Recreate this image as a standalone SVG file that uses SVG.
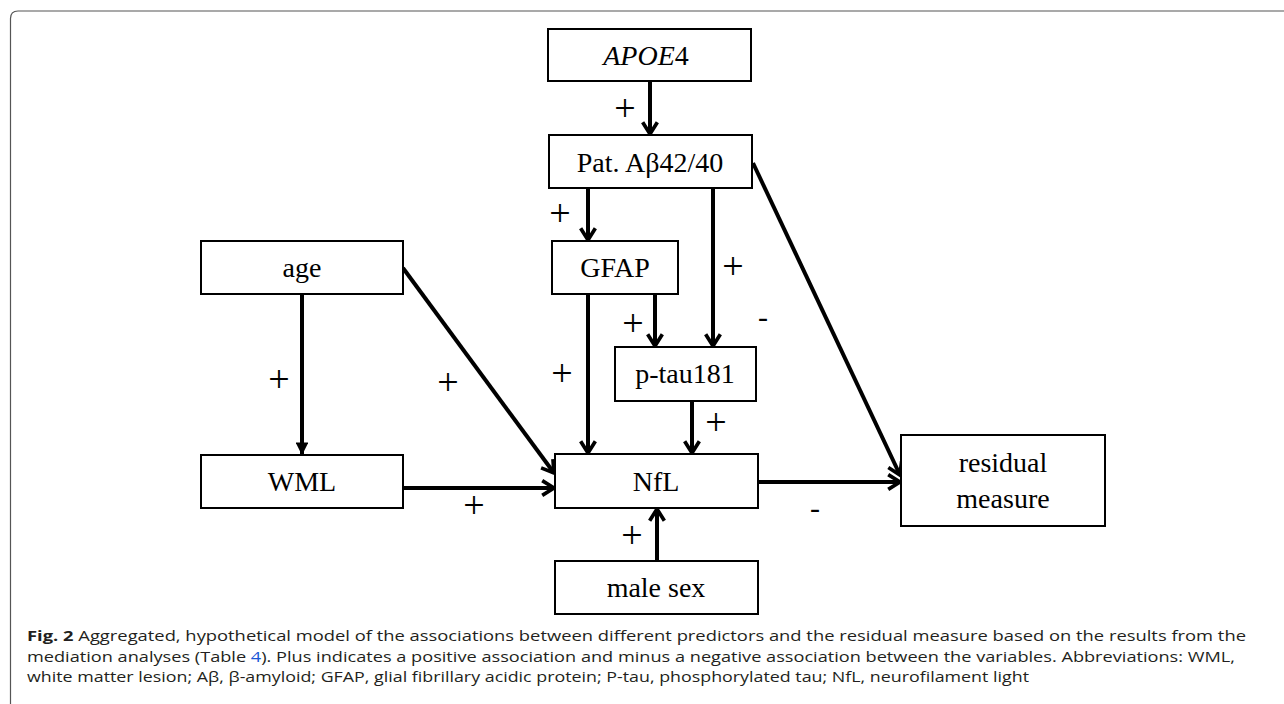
<svg xmlns="http://www.w3.org/2000/svg" width="1284" height="704" viewBox="0 0 1284 704">
<style>
.box{fill:#fff;stroke:#000;stroke-width:2}
.lbl{font-family:"Liberation Serif",serif;font-size:28px;fill:#000;text-anchor:middle}
.sign{font-family:"Liberation Serif",serif;font-size:38px;fill:#000;text-anchor:middle}
.minus{font-family:"Liberation Serif",serif;font-size:30px;fill:#000;text-anchor:middle}
.edge{stroke:#000;stroke-width:4;fill:none;marker-end:url(#ah)}
.edgef{stroke:#000;stroke-width:4;fill:none;marker-end:url(#tri)}
.cap{font-family:"Open Sans","Liberation Sans",sans-serif;font-size:14.5px;fill:#231f20}
</style>
<defs>
<marker id="ah" viewBox="0 0 10 10" refX="8.6" refY="5" markerWidth="4.6" markerHeight="4.6" orient="auto" markerUnits="strokeWidth">
<polyline points="2.2,1 8.6,5 2.2,9" fill="none" stroke="#000" stroke-width="2" stroke-linejoin="miter"/>
</marker>
<marker id="tri" viewBox="0 0 10 10" refX="9" refY="5" markerWidth="3.2" markerHeight="3.2" orient="auto" markerUnits="strokeWidth">
<path d="M0,0 L10,5 L0,10 Z" fill="#000"/>
</marker>
</defs>
<rect width="1284" height="704" fill="#fff"/>
<path d="M10.5,704 V18.5 Q10.5,11 18,11 H1284" fill="none" stroke="#555" stroke-width="1.2"/>

<g id="connectors">
<line class="edge" x1="650" y1="81" x2="650" y2="134"/>
<line class="edge" x1="588" y1="188" x2="588" y2="240"/>
<line class="edge" x1="713" y1="188" x2="713" y2="346"/>
<line class="edge" x1="655" y1="294" x2="655" y2="346"/>
<line class="edge" x1="588" y1="294" x2="588" y2="453"/>
<line class="edge" x1="692" y1="401" x2="692" y2="453"/>
<line class="edgef" x1="302" y1="294" x2="302" y2="454"/>
<line class="edge" x1="403" y1="268" x2="554" y2="473"/>
<line class="edge" x1="403" y1="488" x2="554" y2="488"/>
<line class="edge" x1="657" y1="561" x2="657" y2="509"/>
<line class="edge" x1="758" y1="482" x2="900" y2="482"/>
<line class="edge" x1="753" y1="163" x2="900" y2="475"/>
<text class="sign" x="625" y="121">+</text>
<text class="sign" x="560" y="226">+</text>
<text class="sign" x="733" y="279">+</text>
<text class="sign" x="633" y="336">+</text>
<text class="sign" x="562" y="386">+</text>
<text class="sign" x="716" y="435">+</text>
<text class="sign" x="279" y="392">+</text>
<text class="sign" x="448" y="395">+</text>
<text class="sign" x="474" y="518">+</text>
<text class="sign" x="632" y="548">+</text>
<text class="minus" x="815" y="518">-</text>
<text class="minus" x="763" y="327">-</text>
</g>

<g id="apoe4"><rect class="box" x="548" y="29" width="203" height="52"/><text class="lbl" x="646" y="65"><tspan font-style="italic">APOE</tspan>4</text></g>
<g id="pat"><rect class="box" x="549" y="135" width="203" height="53"/><text class="lbl" x="650" y="172">Pat. Aβ42/40</text></g>
<g id="age"><rect class="box" x="201" y="241" width="202" height="53"/><text class="lbl" x="302" y="277">age</text></g>
<g id="gfap"><rect class="box" x="552" y="241" width="126" height="53"/><text class="lbl" x="615" y="277">GFAP</text></g>
<g id="ptau"><rect class="box" x="615" y="347" width="141" height="54"/><text class="lbl" x="685" y="383">p-tau181</text></g>
<g id="wml"><rect class="box" x="201" y="455" width="202" height="53"/><text class="lbl" x="302" y="491">WML</text></g>
<g id="nfl"><rect class="box" x="555" y="454" width="203" height="54"/><text class="lbl" x="656" y="491">NfL</text></g>
<g id="male"><rect class="box" x="555" y="561" width="203" height="53"/><text class="lbl" x="656" y="597">male sex</text></g>
<g id="residual"><rect class="box" x="901" y="435" width="204" height="91"/><text class="lbl" x="1003" y="472">residual</text><text class="lbl" x="1003" y="508">measure</text></g>

<g id="caption">
<text class="cap" x="27" y="641" textLength="1219" lengthAdjust="spacingAndGlyphs"><tspan font-weight="bold">Fig. 2</tspan>  Aggregated, hypothetical model of the associations between different predictors and the residual measure based on the results from the</text>
<text class="cap" x="27" y="662" textLength="1208" lengthAdjust="spacingAndGlyphs">mediation analyses (Table <tspan fill="#1a56d6">4</tspan>). Plus indicates a positive association and minus a negative association between the variables. Abbreviations: WML,</text>
<text class="cap" x="27" y="682" textLength="1002" lengthAdjust="spacingAndGlyphs">white matter lesion; Aβ, β-amyloid; GFAP, glial fibrillary acidic protein; P-tau, phosphorylated tau; NfL, neurofilament light</text>
</g>
</svg>
